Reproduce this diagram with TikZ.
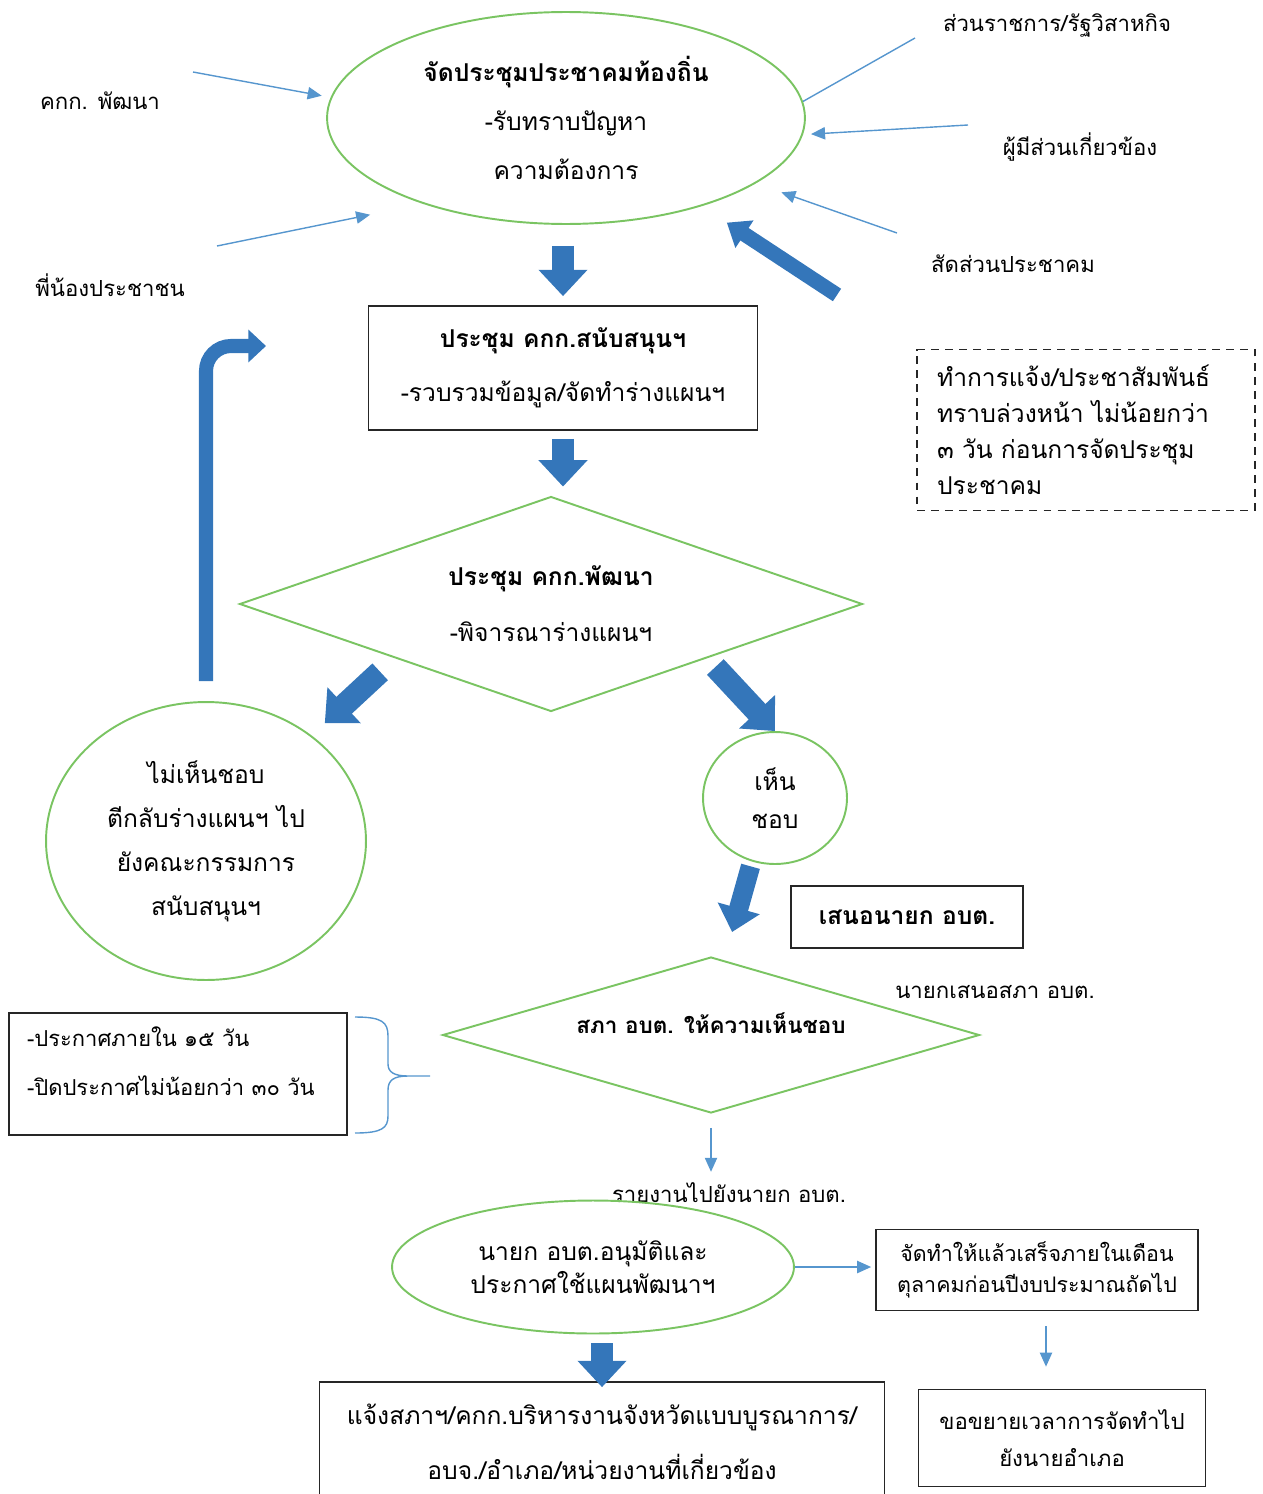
\documentclass[tikz,border=0pt]{standalone}
\usepackage{fontspec}
\setmainfont{Loma}[Script=Thai]
\usetikzlibrary{shapes.geometric, arrows.meta, positioning, calc}
\definecolor{ovalgreen}{RGB}{122,196,98}
\definecolor{flowblue}{RGB}{52,118,186}
\definecolor{pointblue}{RGB}{86,150,206}
\tikzset{
    oval/.style={ % green ellipses and circles
        ellipse, draw=ovalgreen, line width=1.1pt, align=center, inner sep=0pt
    },
    rhomb/.style={ % green decision shapes
        diamond, draw=ovalgreen, line width=1.1pt, align=center, inner sep=0pt
    },
    frame/.style={rectangle, draw=black!85, line width=1pt, align=center},
    tag/.style={font=\fontsize{12.6}{15}\selectfont},
    pointer/.style={ % thin blue arrows
        draw=pointblue, line width=0.8pt,
        -{Triangle[length=8pt,width=7pt]}
    },
    flow/.style={ % fat blue block arrows
        draw=flowblue, line width=13pt,
        -{Triangle[length=15pt,width=27pt]}
    },
}

\begin{document}
\begin{tikzpicture}[x=0.02cm, y=-0.02cm]
    \useasboundingbox (0,0) rectangle (1262,1494);

    % top: the meeting and who comes to it
    \node[oval, minimum width=9.56cm, minimum height=4.24cm,
          font=\fontsize{14}{28}\selectfont] (meet) at (566,118)
          {\textbf{จัดประชุมประชาคมท้องถิ่น}\\-รับทราบปัญหา\\ความต้องการ};
    \node[tag] (kpA)    at (100,101)  {คกก. พัฒนา};
    \node[tag] (people) at (110,285)  {พี่น้องประชาชน};
    \node[tag] (agency) at (1057,25)  {ส่วนราชการ/รัฐวิสาหกิจ};
    \node[tag] (stake)  at (1080,147) {ผู้มีส่วนเกี่ยวข้อง};
    \node[tag] (share)  at (1013,264) {สัดส่วนประชาคม};
    \coordinate (kpTail)     at (193,72);
    \coordinate (peopleTail) at (217,246);
    \coordinate (agencyTail) at (915,38);
    \coordinate (stakeTail)  at (968,125);
    \coordinate (shareTail)  at (897,233);
    \coordinate (quotaTail)  at (837,295);

    \node[frame, minimum width=7.78cm, minimum height=2.48cm,
          font=\fontsize{14}{31}\selectfont] (prep) at (563,368)
          {\textbf{ประชุม คกก.สนับสนุนฯ}\\-รวบรวมข้อมูล/จัดทำร่างแผนฯ};
    \node[frame, dashed, dash pattern=on 4.5pt off 3.5pt, align=left,
          minimum width=6.76cm, minimum height=3.22cm, text width=5.96cm,
          inner xsep=0.4cm, font=\fontsize{14}{20.4}\selectfont] (advise) at (1086,430)
          {ทำการแจ้ง/ประชาสัมพันธ์\\ทราบล่วงหน้า ไม่น้อยกว่า\\๓ วัน ก่อนการจัดประชุม\\ประชาคม};

    \node[rhomb, minimum width=12.46cm, minimum height=4.3cm, aspect=2.9,
          font=\fontsize{14}{32}\selectfont] (judge) at (551,604)
          {\textbf{ประชุม คกก.พัฒนา}\\-พิจารณาร่างแผนฯ};

    \node[oval, minimum width=6.4cm, minimum height=5.56cm,
          font=\fontsize{14}{25}\selectfont] (nope) at (206,841)
          {ไม่เห็นชอบ\\ตีกลับร่างแผนฯ ไป\\ยังคณะกรรมการ\\สนับสนุนฯ};
    \node[oval, minimum width=2.88cm, minimum height=2.64cm,
          font=\fontsize{14}{22}\selectfont] (agree) at (775,798) {เห็น\\ชอบ};
    \coordinate (backTip) at (266,346);

    \node[frame, minimum width=4.64cm, minimum height=1.24cm,
          font=\fontsize{14}{17}\selectfont] (propose) at (907,917) {\textbf{เสนอนายก อบต.}};
    \node[rhomb, minimum width=10.74cm, minimum height=3.12cm, aspect=3.4,
          text depth=14pt, font=\fontsize{12.8}{15}\selectfont] (council) at (711,1035)
          {\textbf{สภา อบต. ให้ความเห็นชอบ}};
    \node[tag] (toCouncil) at (995,992) {นายกเสนอสภา อบต.};
    \node[frame, align=left, minimum width=6.76cm, minimum height=2.44cm,
          text width=6.04cm, inner xsep=0.36cm, text depth=43pt,
          font=\fontsize{12.5}{28}\selectfont] (announce) at (178,1074)
          {-ประกาศภายใน ๑๕ วัน\\-ปิดประกาศไม่น้อยกว่า ๓๐ วัน};
    \node[tag] (report) at (729,1193) {รายงานไปยังนายก อบต.};

    \node[oval, minimum width=8.04cm, minimum height=2.66cm,
          font=\fontsize{14}{19}\selectfont] (plan) at (593,1267)
          {นายก อบต.อนุมัติและ\\ประกาศใช้แผนพัฒนาฯ};
    \node[frame, minimum width=6.44cm, minimum height=1.62cm,
          font=\fontsize{12.2}{18}\selectfont] (deadline) at (1037,1270)
          {จัดทำให้แล้วเสร็จภายในเดือน\\ตุลาคมก่อนปีงบประมาณถัดไป};
    \node[frame, minimum width=5.74cm, minimum height=1.94cm,
          font=\fontsize{12.6}{21}\selectfont] (extend) at (1062,1438)
          {ขอขยายเวลาการจัดทำไป\\ยังนายอำเภอ};
    \node[frame, minimum width=11.3cm, minimum height=2.4cm,
          font=\fontsize{14}{31}\selectfont] (notify) at (602,1442)
          {แจ้งสภาฯ/คกก.บริหารงานจังหวัดแบบบูรณาการ/\\อบจ./อำเภอ/หน่วยงานที่เกี่ยวข้อง};

    % thin arrows into the meeting
    \draw[pointer, shorten >=0.18cm] (kpTail) -- (meet.175);
    \draw[pointer, shorten >=1.08cm] (peopleTail) -- (meet.211);
    \draw[pointer, -] (agencyTail) -- (meet.4);
    \draw[pointer, shorten >=0.16cm] (stakeTail) -- (meet.356);
    \draw[pointer, shorten >=0.54cm] (shareTail) -- (meet.341);
    \draw[flow, line width=8.5pt, -{Triangle[length=12pt,width=18pt]},
          shorten >=0.6cm] (quotaTail) -- (meet.327);

    % block arrows down the flow
    \draw[flow, shorten <=0.42cm, shorten >=0.18cm] (prep.north |- meet.south) -- (prep.north);
    \draw[flow, shorten <=0.16cm, shorten >=0.18cm] (prep.south) -- (prep.south |- judge.north);
    \draw[flow, shorten <=0.4cm, shorten >=0.36cm] (judge.south west) -- (nope.45);
    \draw[flow, shorten <=0.24cm] (judge.south east) -- (agree.north);
    \draw[flow, line width=11pt, -{Triangle[length=14pt,width=24pt]},
          shorten <=0.1cm, shorten >=0.58cm] (agree.250) -- (council.80);
    \draw[flow, line width=8pt, -{Triangle[length=10pt,width=18pt]},
          rounded corners=0.5cm, shorten <=0.4cm] (nope.north) |- (backTip);
    \draw[flow, line width=12pt, shorten <=0.18cm, shorten >=-0.12cm]
          (notify.north |- plan.south) -- (notify.north);

    % thin arrows at the bottom
    \draw[pointer, shorten <=0.28cm, shorten >=0.1cm] (council.south) -- (council.south |- report.north);
    \draw[pointer, shorten >=0.08cm] (plan.east) -- (plan.east -| deadline.west);
    \draw[pointer, shorten <=0.3cm, shorten >=0.44cm]
          ([xshift=0.18cm]deadline.south) -- ([xshift=0.18cm]deadline.south |- extend.north);

    % brace next to the announcement box
    \draw[pointblue, line width=0.8pt]
          (355,1017) .. controls (382,1017) and (388,1022) .. (388,1036) -- (388,1064)
          .. controls (388,1072) and (394,1076) .. (408,1076) -- (430,1076)
          (408,1076) .. controls (394,1076) and (388,1080) .. (388,1090) -- (388,1116)
          .. controls (388,1128) and (382,1133) .. (355,1133);
\end{tikzpicture}
\end{document}
